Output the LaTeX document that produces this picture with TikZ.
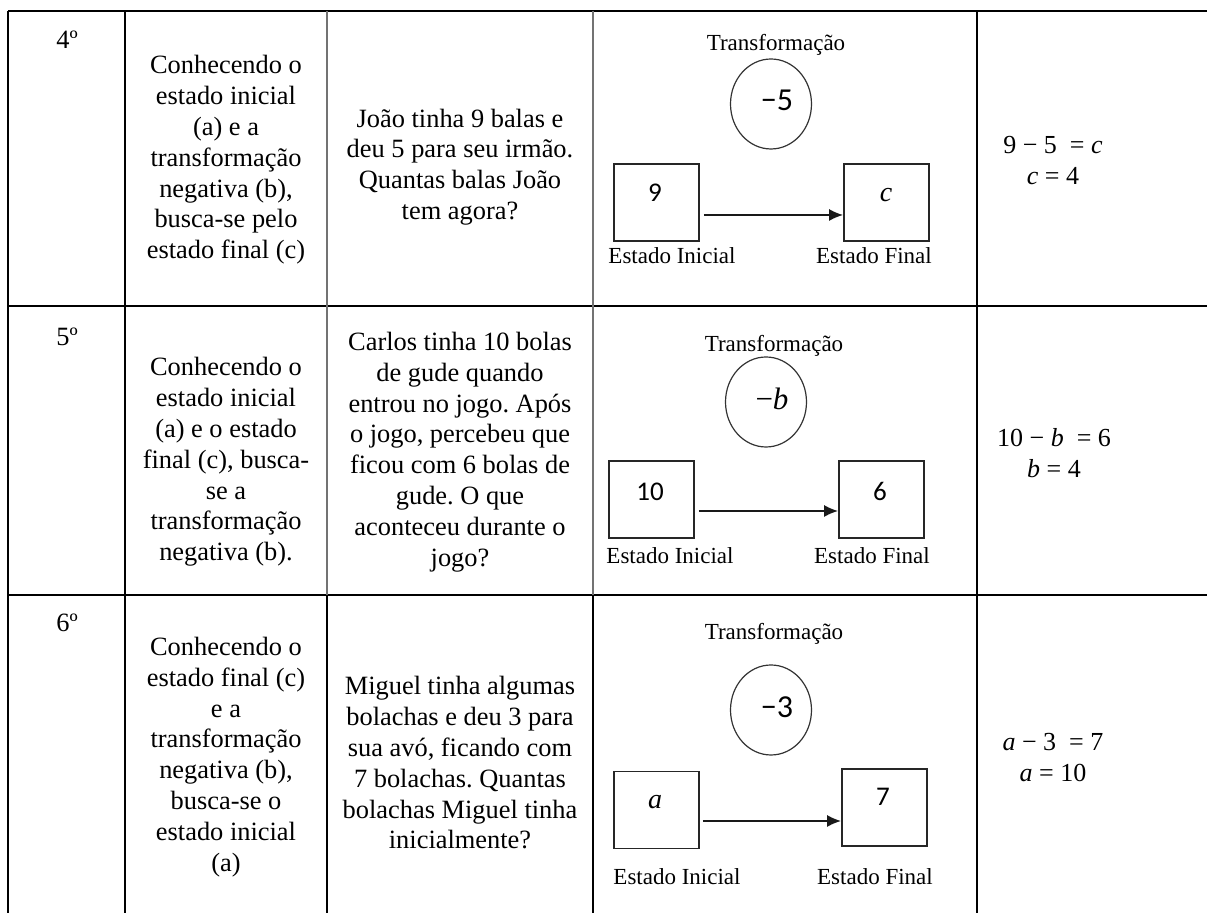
\documentclass[tikz,border=0pt]{standalone}
\usepackage{fontspec}
\setmainfont{Liberation Serif}
\newfontfamily\numfont{Carlito}
\usetikzlibrary{shapes.geometric,arrows.meta,calc}
\frenchspacing
\newcommand{\var}[1]{\textit{#1}}
\begin{document}
\begin{tikzpicture}[x=0.5pt,y=-0.5pt,
  hrule/.style={line width=1.4pt,black},
  vrule/.style={line width=1pt,black},
  softrule/.style={line width=0.8pt,black!55},
  celltext/.style={align=center,font=\fontsize{13.2}{15.4}\selectfont,inner sep=0pt},
  ordtext/.style={font=\fontsize{13.2}{15.4}\selectfont,inner sep=0pt},
  eqtext/.style={align=center,font=\fontsize{13}{15.5}\selectfont,inner sep=0pt},
  statebox/.style={draw=black!85,line width=0.9pt,minimum width=42.5pt,minimum height=38.5pt,inner sep=0pt},
  transcircle/.style={ellipse,draw=black!80,line width=0.6pt,minimum width=40.5pt,minimum height=45pt,inner sep=0pt},
  boxnum/.style={font=\numfont\fontsize{13.5}{15}\selectfont,inner sep=0pt},
  boxvar/.style={font=\fontsize{14}{16}\selectfont\itshape,inner sep=0pt},
  circnum/.style={font=\numfont\fontsize{16}{18}\selectfont,inner sep=0pt},
  circvar/.style={font=\fontsize{15.5}{17}\selectfont,inner sep=0pt},
  difftext/.style={font=\fontsize{11.5}{13}\selectfont,inner sep=0pt,anchor=base},
  flow/.style={-{Latex[length=7pt,width=6pt]},line width=0.8pt,black!90}
]
\useasboundingbox (0,0) rectangle (1207,913);

% table rules
\draw[hrule] (8,11) -- (1207,11);
\draw[hrule] (8,306) -- (1207,306);
\draw[hrule] (8,595) -- (1207,595);
\draw[vrule] (8,11) -- (8,913);
\draw[vrule] (125,11) -- (125,913);
\draw[softrule] (327,11) -- (327,595);
\draw[vrule] (327,595) -- (327,913);
\draw[softrule] (593,11) -- (593,595);
\draw[vrule] (593,595) -- (593,913);
\draw[vrule] (977,11) -- (977,913);

% ---------- row 4
\node[ordtext] (o4) at (67,40) {4º};
\node[celltext] (d4) at (226,160) {Conhecendo o\\estado inicial\\(a) e a\\transformação\\negativa (b),\\busca-se pelo\\estado final (c)};
\node[celltext] (p4) at (460,167) {João tinha 9 balas e\\deu 5 para seu irmão.\\Quantas balas João\\tem agora?};
\node[eqtext] (e4) at (1053,161) {9 − 5\hspace{0.5em}= \var{c}\\\var{c} = 4};

\node[difftext] (t1) at (776,51) {Transformação};
\node[transcircle] (c1) at (771,104) {};
\node[circnum] (c1v) at (777,100) {−5};
\node[statebox] (i1) at (656.5,202.5) {};
\node[statebox] (f1) at (886.5,202.5) {};
\node[boxnum] (i1v) at (655,193) {9};
\node[boxvar] (f1v) at (886,195) {c};
\draw[flow] ($(i1.east)+(4,12.5)$) -- ($(f1.west)+(0,12.5)$);
\node[difftext] (li1) at (672,264) {Estado Inicial};
\node[difftext] (lf1) at (874,264) {Estado Final};

% ---------- row 5
\node[ordtext] (o5) at (67,337) {5º};
\node[celltext] (d5) at (226,462) {Conhecendo o\\estado inicial\\(a) e o estado\\final (c), busca-\\se a\\transformação\\negativa (b).};
\node[celltext] (p5) at (460,452) {Carlos tinha 10 bolas\\de gude quando\\entrou no jogo. Após\\o jogo, percebeu que\\ficou com 6 bolas de\\gude. O que\\aconteceu durante o\\jogo?};
\node[eqtext] (e5) at (1054,453) {10 − \var{b}\hspace{0.5em}= 6\\\var{b} = 4};

\node[difftext] (t2) at (774,352) {Transformação};
\node[transcircle] (c2) at (766,402) {};
\node[circvar] (c2v) at (772,399) {−\var{b}};
\node[statebox] (i2) at (651.5,499.5) {};
\node[statebox] (f2) at (881.5,499.5) {};
\node[boxnum] (i2v) at (650,492) {10};
\node[boxnum] (f2v) at (880,491) {6};
\draw[flow] ($(i2.east)+(4,11.5)$) -- ($(f2.west)+(0,11.5)$);
\node[difftext] (li2) at (670,564) {Estado Inicial};
\node[difftext] (lf2) at (872,564) {Estado Final};

% ---------- row 6
\node[ordtext] (o6) at (67,623) {6º};
\node[celltext] (d6) at (226,757) {Conhecendo o\\estado final (c)\\e a\\transformação\\negativa (b),\\busca-se o\\estado inicial\\(a)};
\node[celltext] (p6) at (460,763) {Miguel tinha algumas\\bolachas e deu 3 para\\sua avó, ficando com\\7 bolachas. Quantas\\bolachas Miguel tinha\\inicialmente?};
\node[eqtext] (e6) at (1053,758) {\var{a} − 3\hspace{0.5em}= 7\\\var{a} = 10};

\node[difftext] (t3) at (774,640) {Transformação};
\node[transcircle] (c3) at (771,710) {};
\node[circnum] (c3v) at (777,707) {−3};
\node[statebox] (i3) at (656.5,810) {};
\node[statebox] (f3) at (884.5,807.5) {};
\node[boxvar] (i3v) at (655,802) {a};
\node[boxnum] (f3v) at (883,797) {7};
\draw[flow] ($(i3.east)+(3,11)$) -- ($(f3.west)+(0,13.5)$);
\node[difftext] (li3) at (677,885) {Estado Inicial};
\node[difftext] (lf3) at (875,885) {Estado Final};
\end{tikzpicture}
\end{document}
